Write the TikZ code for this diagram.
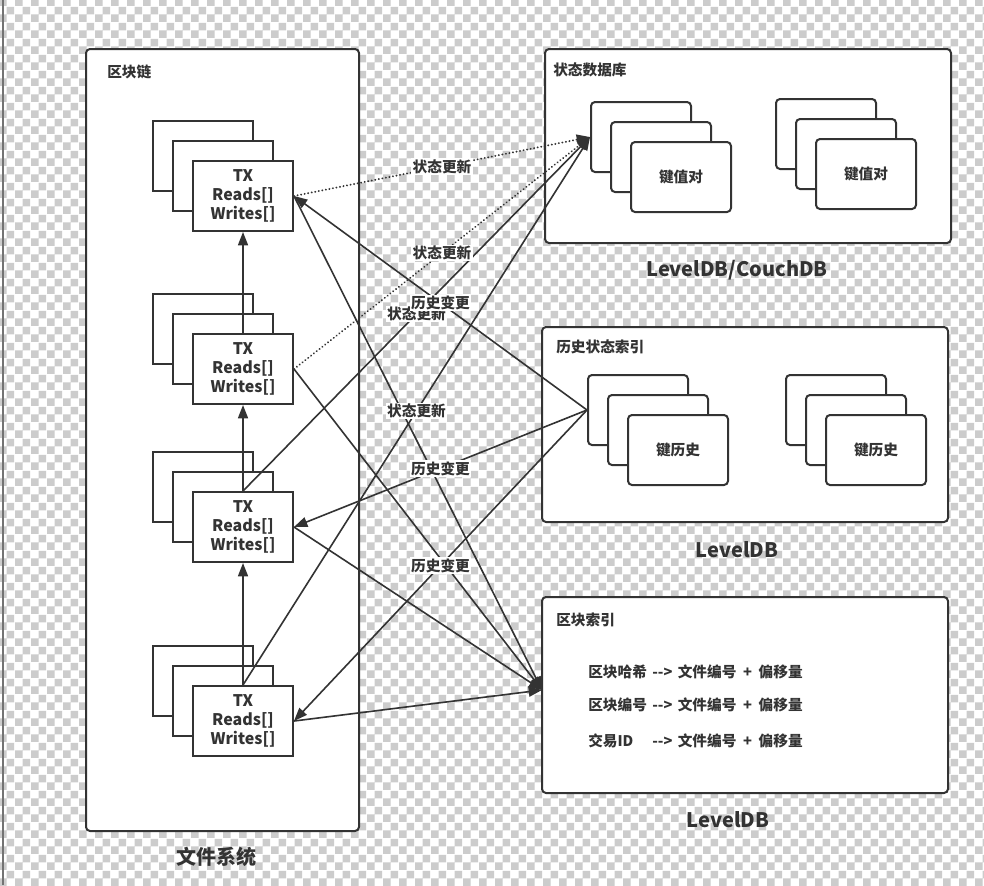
\documentclass[tikz,border=0pt]{standalone}
\usepackage{fontspec}
\setmainfont{Noto Sans CJK SC}
\usetikzlibrary{positioning,arrows.meta,patterns}

\definecolor{ink}{HTML}{333333}
\definecolor{checkgray}{HTML}{CCCCCC}

\pgfdeclarepatternformonly{checks}{\pgfqpoint{0pt}{0pt}}{\pgfqpoint{12pt}{12pt}}{\pgfqpoint{12pt}{12pt}}{%
  \pgfpathrectangle{\pgfqpoint{0pt}{0pt}}{\pgfqpoint{6pt}{6pt}}%
  \pgfpathrectangle{\pgfqpoint{6pt}{6pt}}{\pgfqpoint{6pt}{6pt}}%
  \pgfusepath{fill}}

\newcommand{\idxarrow}{-\kern0pt-\kern0pt>}
\newcommand{\idxtarget}{\hspace{4pt}文件编号\hspace{5pt}+\hspace{5pt}偏移量}

\tikzset{
  every node/.style={font=\bfseries\fontsize{11}{14.25}\selectfont, text=ink},
  group/.style={draw=ink, line width=1.5pt, rounded corners=3pt, fill=white},
  txbox/.style={draw=ink, line width=1.5pt, fill=white, minimum width=75pt, minimum height=52.5pt, align=center, inner sep=0pt},
  txtext/.style={font=\bfseries\fontsize{12}{14.25}\selectfont},
  kvbox/.style={txbox, rounded corners=3pt},
  title/.style={anchor=west, inner sep=0pt},
  dbname/.style={font=\bfseries\fontsize{15}{18}\selectfont},
  link/.style={draw=ink, line width=1.2pt, -{Triangle[length=10pt,width=7.5pt]}},
  update/.style={link, line cap=round, dash pattern=on 0.1pt off 2.6pt, line width=1.5pt},
  lbl/.style={fill=white, inner sep=1pt},
}

\begin{document}
\begin{tikzpicture}[x=0.75pt, y=-0.75pt]
	% Background
	\useasboundingbox (0,0) rectangle (984,885);
	\fill[white] (0,0) rectangle (984,885);
	\fill[pattern=checks, pattern color=checkgray] (0,0) rectangle (984,885);
	\draw[black!55, line width=1.5pt] (3,0) -- (3,885);
	
	% File system
	\node[group, minimum width=204.75pt, minimum height=586.5pt] (chain) at (222.5,440) {};
	\node[title] (chaint) at ([shift={(22,24)}]chain.north west) {区块链};
	\node[dbname] (fs) at (216,857) {文件系统};
	\foreach \n/\y in {1/196,2/369,3/527,4/721} {
		\node[txbox] (tx\n c) at (203,{\y-40}) {};
		\node[txbox] (tx\n b) at (223,{\y-20}) {};
		\node[txbox, txtext] (tx\n) at (243,\y) {TX\\Reads[]\\Writes[]};
	}
	\draw[link] (tx2) -- (tx1);
	\draw[link] (tx3) -- (tx2);
	\draw[link] (tx4) -- (tx3);
	
	% State database
	\node[group, minimum width=304.5pt, minimum height=145.5pt] (state) at (748,146) {};
	\node[title] (statet) at ([shift={(9,22)}]state.north west) {状态数据库};
	\node[dbname] (statedb) at (737,270) {LevelDB/CouchDB};
	\foreach \n/\x/\y in {1/681/177,2/866/174} {
		\node[kvbox] (kv\n c) at ({\x-40},{\y-40}) {};
		\node[kvbox] (kv\n b) at ({\x-20},{\y-20}) {};
		\node[kvbox] (kv\n) at (\x,\y) {键值对};
	}
	
	% History index
	\node[group, minimum width=304.5pt, minimum height=146.25pt] (hist) at (745,424.5) {};
	\node[title] (histt) at ([shift={(15,21)}]hist.north west) {历史状态索引};
	\node[dbname] (histdb) at (737,550) {LevelDB};
	\foreach \n/\x/\y in {1/678/450,2/876/450} {
		\node[kvbox] (kh\n c) at ({\x-40},{\y-40}) {};
		\node[kvbox] (kh\n b) at ({\x-20},{\y-20}) {};
		\node[kvbox] (kh\n) at (\x,\y) {键历史};
	}
	
	% Block index
	\node[group, minimum width=304.5pt, minimum height=147pt] (idx) at (745,695) {};
	\node[title] (idxt) at ([shift={(15,24)}]idx.north west) {区块索引};
	\node[dbname] (idxdb) at (728,820) {LevelDB};
	\node[title] (idx1) at (588,672) {\makebox[48pt][l]{区块哈希}\idxarrow\idxtarget};
	\node[title] (idx2) at (588,705) {\makebox[48pt][l]{区块编号}\idxarrow\idxtarget};
	\node[title] (idx3) at (588,741) {\makebox[48pt][l]{交易ID}\idxarrow\idxtarget};
	
	% Links
	\coordinate (kvin) at (kv1c.west);
	\coordinate (khin) at (kh1c.west);
	\coordinate (idxin) at (542,690);
	\draw[update] (tx1.east) -- coordinate (upd1) (kvin);
	\draw[update] (tx2.east) -- coordinate (upd2) (kvin);
	\draw[link] (tx3.north) -- coordinate (upd3) (kvin);
	\draw[link] (tx4.north) -- coordinate (upd4) (kvin);
	\draw[link] (khin) -- coordinate (chg1) (tx1.east);
	\draw[link] (khin) -- coordinate (chg3) (tx3.east);
	\draw[link] (khin) -- coordinate (chg4) (tx4.east);
	\draw[link] (tx1.east) -- (idxin);
	\draw[link] (tx2.east) -- (idxin);
	\draw[link] (tx3.east) -- (idxin);
	\draw[link] (tx4.east) -- (idxin);
	
	% Labels
	\node[lbl] at (upd3) {状态更新};
	\node[lbl] at (upd4) {状态更新};
	\node[lbl] at (upd1) {状态更新};
	\node[lbl] at (upd2) {状态更新};
	\node[lbl] at (chg1) {历史变更};
	\node[lbl] at (chg3) {历史变更};
	\node[lbl] at (chg4) {历史变更};
\end{tikzpicture}
\end{document}
